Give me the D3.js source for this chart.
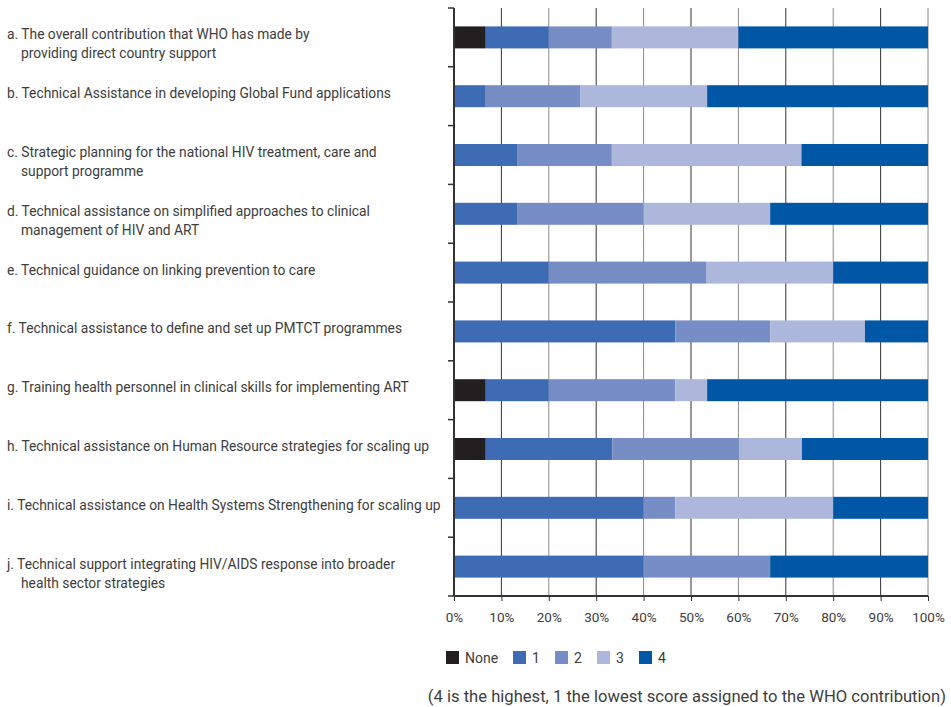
<!DOCTYPE html>
<html>
<head>
<meta charset="utf-8">
<script src="https://cdn.jsdelivr.net/npm/d3@7"></script>
<style>
  body { margin: 0; background: #fff; }
  svg text { font-family: Roboto, "Noto Sans", sans-serif; fill: #3d3d3d; }
</style>
</head>
<body>
<svg id="chart"></svg>
<script>
'use strict';

// row labels, one array entry per line of text
var categories = [
  ['a. The overall contribution that WHO has made by', 'providing direct country support'],
  ['b. Technical Assistance in developing Global Fund applications'],
  ['c. Strategic planning for the national HIV treatment, care and', 'support programme'],
  ['d. Technical assistance on simplified approaches to clinical', 'management of HIV and ART'],
  ['e. Technical guidance on linking prevention to care'],
  ['f. Technical assistance to define and set up PMTCT programmes'],
  ['g. Training health personnel in clinical skills for implementing ART'],
  ['h. Technical assistance on Human Resource strategies for scaling up'],
  ['i. Technical assistance on Health Systems Strengthening for scaling up'],
  ['j. Technical support integrating HIV/AIDS response into broader', 'health sector strategies']
];

var scoreKeys = ['None', '1', '2', '3', '4'];

// percent of responses per score, same order as categories
var scoreNone = [6.7, 0, 0, 0, 0, 0, 6.7, 6.7, 0, 0];
var score1 = [13.3, 6.7, 13.3, 13.3, 20.0, 46.7, 13.3, 26.7, 40.0, 40.0];
var score2 = [13.3, 20.0, 20.0, 26.7, 33.3, 20.0, 26.7, 26.7, 6.7, 26.7];
var score3 = [26.7, 26.7, 40.0, 26.7, 26.7, 20.0, 6.7, 13.3, 33.3, 0];
var score4 = [40.0, 46.6, 26.7, 33.3, 20.0, 13.3, 46.6, 26.6, 20.0, 33.3];

var xTicks = [0, 10, 20, 30, 40, 50, 60, 70, 80, 90, 100];

var colors = ['#231f20', '#3d6cb4', '#778dc5', '#adb7db', '#0057a6'];
var footnote = '(4 is the highest, 1 the lowest score assigned to the WHO contribution)';

var width = 951,
  height = 707,
  plotLeft = 454,
  plotRight = 928,
  plotTop = 8,
  plotBottom = 596;

var rows = categories.map(function (c, i) {
  return {
    label: c,
    'None': scoreNone[i], '1': score1[i], '2': score2[i], '3': score3[i], '4': score4[i]
  };
});

var svg = d3.select('#chart').attr('width', width).attr('height', height);

var x = d3.scaleLinear().domain([0, 100]).range([plotLeft, plotRight]);
var y = d3.scaleBand().domain(d3.range(categories.length)).range([plotTop, plotBottom]).paddingInner(0.626).paddingOuter(0.313);
var yBoundary = d3.scaleBand().domain(d3.range(categories.length)).range([plotTop, plotBottom]);
var color = d3.scaleOrdinal().domain(scoreKeys).range(colors);

// vertical grid
svg.append('g')
  .selectAll('line')
  .data(xTicks.slice(1))
  .join('line')
  .attr('x1', function (d) { return x(d); })
  .attr('x2', function (d) { return x(d); })
  .attr('y1', plotTop)
  .attr('y2', plotBottom)
  .attr('stroke', function (d, i) { return i % 2 ? '#8a8a8a' : '#333'; })
  .attr('stroke-width', 1);

var stack = d3.stack().keys(scoreKeys)(rows);

svg.append('g')
  .selectAll('g')
  .data(stack)
  .join('g')
  .attr('fill', function (d) { return color(d.key); })
  .selectAll('rect')
  .data(function (d) { return d; })
  .join('rect')
  .attr('x', function (d) { return x(d[0]); })
  .attr('width', function (d) { return Math.max(0, x(Math.min(100, d[1])) - x(d[0])); })
  .attr('y', function (d, i) { return y(i); })
  .attr('height', y.bandwidth());

// left axis with ticks on the band boundaries
svg.append('line')
  .attr('x1', plotLeft).attr('x2', plotLeft).attr('y1', plotTop).attr('y2', plotBottom)
  .attr('stroke', '#333').attr('stroke-width', 2);

svg.append('g')
  .selectAll('line')
  .data(d3.range(categories.length + 1))
  .join('line')
  .attr('x1', plotLeft - 6).attr('x2', plotLeft)
  .attr('y1', function (d) { return d < categories.length ? yBoundary(d) : plotBottom; })
  .attr('y2', function (d) { return d < categories.length ? yBoundary(d) : plotBottom; })
  .attr('stroke', '#333').attr('stroke-width', 1.5);

// bottom axis
var xAxis = d3.axisBottom(x)
  .tickValues(xTicks)
  .tickSize(5)
  .tickPadding(11)
  .tickFormat(function (d) { return d + '%'; });

var gx = svg.append('g').attr('transform', 'translate(0,' + plotBottom + ')').call(xAxis);
gx.select('.domain').attr('stroke', '#333').attr('stroke-width', 2).attr('d', 'M' + plotLeft + ',0H' + plotRight);
gx.selectAll('.tick line').attr('stroke', '#333');
gx.selectAll('.tick text')
  .style('font-family', 'Roboto, "Noto Sans", sans-serif')
  .style('font-size', '13.5px')
  .attr('fill', '#3d3d3d');

// row labels
var labels = svg.append('g')
  .selectAll('text')
  .data(categories)
  .join('text')
  .attr('font-size', 13.8)
  .attr('y', function (d, i) { return y(i) + y.bandwidth() / 2 + 2; });

labels.selectAll('tspan')
  .data(function (d) { return d; })
  .join('tspan')
  .attr('x', function (d, i) { return i ? 21 : 7; })
  .attr('dy', function (d, i) { return i ? 19 : 0; })
  .text(function (d) { return d; });

// legend
var legendX = [446, 513, 555, 597, 639];
var legend = svg.append('g')
  .selectAll('g')
  .data(scoreKeys)
  .join('g')
  .attr('transform', function (d, i) { return 'translate(' + legendX[i] + ',651)'; });

legend.append('rect')
  .attr('width', 13).attr('height', 13)
  .attr('fill', function (d) { return color(d); });

legend.append('text')
  .attr('x', 19).attr('y', 12)
  .attr('font-size', 14)
  .text(function (d) { return d; });

svg.append('text')
  .attr('x', 946).attr('y', 702)
  .attr('text-anchor', 'end')
  .attr('font-size', 16.6)
  .text(footnote);
</script>
</body>
</html>
